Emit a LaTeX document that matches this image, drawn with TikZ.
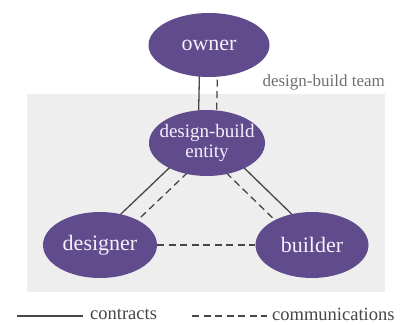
\documentclass[tikz,border=0pt]{standalone}
\usepackage{fontspec}
\setmainfont{Liberation Serif}
\usetikzlibrary{shapes.geometric,calc,backgrounds}
\definecolor{purp}{RGB}{96,76,140}
\definecolor{boxgray}{RGB}{238,238,238}
\definecolor{linegray}{RGB}{70,70,70}
\definecolor{labelgray}{RGB}{110,110,110}
\definecolor{textlav}{RGB}{245,240,250}
\tikzset{
  party/.style={ellipse, fill=purp, draw=none, inner sep=0pt},
  ptext/.style={text=textlav, font=\fontsize{22}{24}\selectfont, align=center, inner sep=0pt},
  contract/.style={draw=linegray, line width=1.3pt},
  comm/.style={draw=linegray, line width=1.3pt, dash pattern=on 7pt off 4.5pt},
  lbl/.style={text=labelgray, font=\fontsize{17}{18}\selectfont, inner sep=0pt},
  legtext/.style={text=linegray, font=\fontsize{18.5}{20}\selectfont, inner sep=0pt, anchor=west}
}
\begin{document}
\begin{tikzpicture}[x=1pt,y=-1pt]
\useasboundingbox (0,0) rectangle (403,324);
\node[party, minimum width=121pt, minimum height=64pt,
  label={[ptext]center:owner}] (owner) at (209,45) {};
\node[party, minimum width=116pt, minimum height=66pt,
  label={[ptext, font=\fontsize{19}{20}\selectfont]center:design-build\\entity}] (entity) at (207,143) {};
\node[party, minimum width=114pt, minimum height=66pt,
  label={[ptext]center:designer}] (designer) at (100,245) {};
\node[party, minimum width=113pt, minimum height=66pt,
  label={[ptext]center:builder}] (builder) at (312,245) {};
\node[lbl, anchor=east] (team) at (385,82) {design-build team};
\begin{scope}[on background layer]
  \fill[boxgray] (27,94) rectangle (385,292);
  \draw[contract] ($(owner)!9pt!-90:(entity)$) -- ($(entity)!9pt!90:(owner)$);
  \draw[comm] ($(owner)!9pt!90:(entity)$) -- ($(entity)!9pt!-90:(owner)$);
  \draw[contract] ($(entity)!8pt!-90:(designer)$) -- ($(designer)!8pt!90:(entity)$);
  \draw[comm] ($(entity)!8pt!90:(designer)$) -- ($(designer)!8pt!-90:(entity)$);
  \draw[contract] ($(entity)!8pt!90:(builder)$) -- ($(builder)!8pt!-90:(entity)$);
  \draw[comm] ($(entity)!8pt!-90:(builder)$) -- ($(builder)!8pt!90:(entity)$);
  \draw[comm] (designer) -- (builder);
\end{scope}
\coordinate (l1a) at (17,316);
\coordinate (l1b) at (83,316);
\coordinate (l2a) at (192,316);
\coordinate (l2b) at (267,316);
\draw[contract] (l1a) -- (l1b);
\node[legtext] (ct) at (90,314) {contracts};
\draw[comm] (l2a) -- (l2b);
\node[legtext] (cm) at (272,314) {communications};
\end{tikzpicture}
\end{document}
